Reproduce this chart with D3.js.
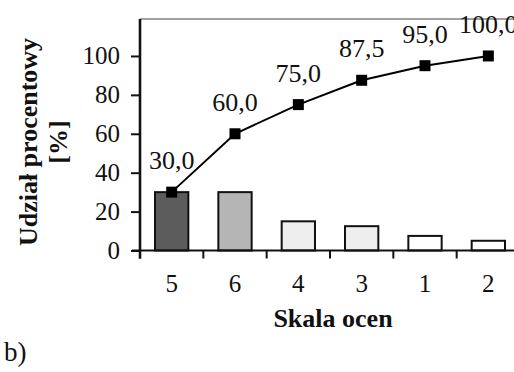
<!DOCTYPE html>
<html>
<head>
<meta charset="utf-8">
<script src="https://cdn.jsdelivr.net/npm/d3@7"></script>
<style>
  html, body { margin: 0; padding: 0; background: #fff; }
  svg { display: block; font-family: "Liberation Serif", "Times New Roman", serif; }
</style>
</head>
<body>
<div id="chart"></div>
<script>
// Pareto chart: share per grade (bars) + cumulative share (line)
const categories = ['5', '6', '4', '3', '1', '2'];
const shares = [30, 30, 15, 12.5, 7.5, 5];
const cumulative = [30.0, 60.0, 75.0, 87.5, 95.0, 100.0];
const barFills = ['#5c5c5c', '#b5b5b5', '#eeeeee', '#eeeeee', '#ffffff', '#ffffff'];
const yTicks = [0, 20, 40, 60, 80, 100];

const width = 514, height = 372;

const svg = d3.select('#chart').append('svg')
    .attr('width', width)
    .attr('height', height);

// scales
const x = d3.scaleBand()
    .domain(categories)
    .range([140, 520])
    .paddingInner(0.474)
    .paddingOuter(0.237);

const y = d3.scaleLinear()
    .domain([0, 119])
    .range([250.5, 19]);

const fmt = v => d3.format('.1f')(v).replace('.', ',');

// top border of plot area
svg.append('line')
    .attr('x1', 140).attr('x2', width)
    .attr('y1', y(119)).attr('y2', y(119))
    .attr('stroke', '#444').attr('stroke-width', 1.2);

// bars
svg.append('g')
    .selectAll('rect')
    .data(shares)
    .join('rect')
    .attr('x', (d, i) => x(categories[i]))
    .attr('y', d => y(d))
    .attr('width', x.bandwidth())
    .attr('height', d => y(0) - y(d))
    .attr('fill', (d, i) => barFills[i])
    .attr('stroke', '#111')
    .attr('stroke-width', 2);

// y axis
const yAxis = svg.append('g')
    .attr('transform', 'translate(140,0)')
    .call(d3.axisLeft(y).tickValues(yTicks).tickSize(9).tickPadding(11));
yAxis.select('.domain').remove();
yAxis.selectAll('.tick line').attr('stroke', '#111').attr('stroke-width', 2);
yAxis.selectAll('.tick text')
    .attr('fill', '#111')
    .style('font-size', '25px')
    .style('font-family', '"Liberation Serif", "Times New Roman", serif');

svg.append('line')
    .attr('x1', 140).attr('x2', 140)
    .attr('y1', y(119)).attr('y2', y(0) + 8)
    .attr('stroke', '#111').attr('stroke-width', 2.6);

// x axis (labels centred on bands, ticks on band edges)
const xAxis = svg.append('g')
    .attr('transform', `translate(0,${y(0)})`)
    .call(d3.axisBottom(x).tickSize(0).tickPadding(24));
xAxis.select('.domain').remove();
xAxis.selectAll('.tick text')
    .attr('fill', '#111')
    .style('font-size', '25px')
    .style('font-family', '"Liberation Serif", "Times New Roman", serif');

svg.append('line')
    .attr('x1', 132).attr('x2', width)
    .attr('y1', y(0)).attr('y2', y(0))
    .attr('stroke', '#111').attr('stroke-width', 2);

const edges = categories.map(c => x(c) - x.step() * x.paddingInner() / 2);
svg.append('g')
    .selectAll('line')
    .data(edges)
    .join('line')
    .attr('x1', d => d).attr('x2', d => d)
    .attr('y1', y(0)).attr('y2', y(0) + 8)
    .attr('stroke', '#111').attr('stroke-width', 2);

// cumulative line
const cx = (d, i) => x(categories[i]) + x.bandwidth() / 2;
svg.append('path')
    .datum(cumulative)
    .attr('fill', 'none')
    .attr('stroke', '#000')
    .attr('stroke-width', 2)
    .attr('d', d3.line().x(cx).y(d => y(d)));

const m = 11;
svg.append('g')
    .selectAll('rect')
    .data(cumulative)
    .join('rect')
    .attr('x', (d, i) => cx(d, i) - m / 2)
    .attr('y', d => y(d) - m / 2)
    .attr('width', m).attr('height', m)
    .attr('fill', '#000');

svg.append('g')
    .selectAll('text')
    .data(cumulative)
    .join('text')
    .attr('x', cx)
    .attr('y', d => y(d) - 23)
    .attr('text-anchor', 'middle')
    .attr('fill', '#111')
    .style('font-size', '26px')
    .text(d => fmt(d));

// axis titles
svg.append('text')
    .attr('x', 333).attr('y', 327)
    .attr('text-anchor', 'middle')
    .attr('font-weight', 'bold')
    .attr('fill', '#111')
    .style('font-size', '26px')
    .text('Skala ocen');

const yTitle = svg.append('text')
    .attr('transform', 'translate(37,142) rotate(-90)')
    .attr('text-anchor', 'middle')
    .attr('font-weight', 'bold')
    .attr('fill', '#111')
    .style('font-size', '26px');
yTitle.append('tspan').attr('x', 0).attr('y', 0).text('Udział procentowy');
yTitle.append('tspan').attr('x', 0).attr('y', 30).text('[%]');

// panel label
svg.append('text')
    .attr('x', 4).attr('y', 361)
    .attr('fill', '#111')
    .style('font-size', '27px')
    .text('b)');
</script>
</body>
</html>
